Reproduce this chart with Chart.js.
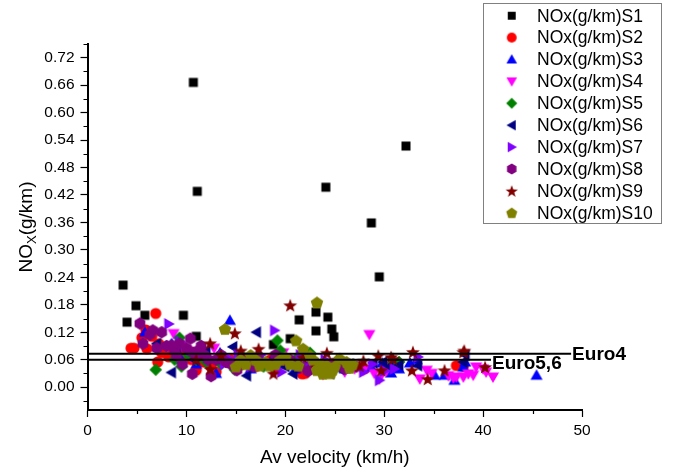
<!DOCTYPE html>
<html>
<head>
<meta charset="utf-8">
<script src="https://cdn.jsdelivr.net/npm/chart.js@4/dist/chart.umd.min.js"></script>
<style>
  html, body { margin: 0; padding: 0; background: #fff; }
  #wrap { width: 674px; height: 474px; }
</style>
</head>
<body>
<div id="wrap"><canvas id="myChart" width="674" height="474"></canvas></div>
<script>
// axis ticks
const xTicks = [0, 10, 20, 30, 40, 50];
const xMinor = [5, 15, 25, 35, 45];
const yTicks = [0, 0.06, 0.12, 0.18, 0.24, 0.30, 0.36, 0.42, 0.48, 0.54, 0.60, 0.66, 0.72];
const yMinor = [-0.03, 0.03, 0.09, 0.15, 0.21, 0.27, 0.33, 0.39, 0.45, 0.51, 0.57, 0.63, 0.69, 0.75];

// limit lines
const euroNames = ['Euro4', 'Euro5,6'];
const euroLevels = [0.073, 0.060];
const euroEnds = [48.9, 40.8];

const seriesNames = ['NOx(g/km)S1', 'NOx(g/km)S2', 'NOx(g/km)S3', 'NOx(g/km)S4', 'NOx(g/km)S5',
  'NOx(g/km)S6', 'NOx(g/km)S7', 'NOx(g/km)S8', 'NOx(g/km)S9', 'NOx(g/km)S10'];

// [velocity km/h, NOx g/km]
const s1 = [[10.7,0.666],[11.1,0.428],[24.1,0.437],[32.2,0.527],[28.7,0.359],[29.5,0.241],
  [3.6,0.223],[4.0,0.142],[4.9,0.178],[5.8,0.157],[9.7,0.157],[11.0,0.111],[21.4,0.147],
  [20.5,0.106],[23.1,0.164],[23.1,0.123],[24.3,0.153],[24.7,0.127],[24.9,0.110],[18.8,0.093]];
const s2 = [[4.4,0.085],[4.7,0.085],[5.5,0.108],[5.9,0.125],[6.0,0.084],[6.5,0.111],[6.9,0.161],
  [7.2,0.095],[7.1,0.055],[7.5,0.075],[8.2,0.066],[8.5,0.070],[9.0,0.080],[9.8,0.070],[10.2,0.080],
  [10.5,0.060],[11.0,0.037],[11.5,0.070],[11.7,0.055],[12.0,0.065],[12.5,0.045],[13.0,0.033],
  [14.5,0.060],[15.5,0.050],[16.0,0.055],[17.0,0.045],[18.5,0.060],[19.0,0.040],[20.0,0.050],
  [21.7,0.029],[22.0,0.030],[28.0,0.040],[37.3,0.047],[38.0,0.045]];
const s3 = [[5.8,0.120],[8.5,0.095],[9.5,0.060],[10.5,0.075],[11.0,0.050],[11.8,0.070],[13.0,0.030],
  [13.4,0.075],[14.0,0.060],[14.4,0.146],[15.5,0.055],[16.5,0.040],[17.5,0.065],[18.5,0.055],
  [19.5,0.050],[21.0,0.040],[22.5,0.060],[23.5,0.045],[24.5,0.050],[26.0,0.040],[28.7,0.044],
  [29.8,0.053],[30.7,0.031],[31.5,0.040],[32.6,0.053],[33.3,0.060],[35.1,0.026],[36.1,0.026],
  [37.1,0.015],[38.0,0.044],[38.2,0.055],[45.4,0.026]];
const s4 = [[8.7,0.117],[9.5,0.090],[10.5,0.065],[12.8,0.085],[13.8,0.060],[17.0,0.055],[19.8,0.075],
  [22.3,0.045],[23.8,0.028],[26.0,0.033],[27.0,0.040],[27.9,0.037],[28.5,0.115],[29.0,0.030],
  [29.5,0.018],[30.2,0.035],[31.0,0.045],[33.6,0.018],[34.3,0.037],[34.8,0.030],[36.5,0.025],
  [37.0,0.020],[37.3,0.022],[38.0,0.022],[38.5,0.029],[39.0,0.026],[39.3,0.044],[40.0,0.040],
  [40.3,0.033],[41.0,0.022]];
const s5 = [[6.9,0.038],[8.8,0.060],[9.3,0.108],[9.5,0.045],[10.2,0.070],[11.0,0.060],[12.0,0.055],
  [13.5,0.050],[14.9,0.038],[15.8,0.065],[16.5,0.050],[17.8,0.045],[19.2,0.102],[19.5,0.080],
  [20.0,0.050],[21.0,0.060],[22.5,0.075],[24.0,0.050],[25.5,0.045],[30.9,0.051],[31.5,0.055]];
const s6 = [[7.0,0.095],[8.5,0.032],[9.0,0.085],[10.8,0.060],[11.5,0.070],[12.0,0.080],[13.2,0.060],
  [14.7,0.088],[15.5,0.060],[16.1,0.025],[17.1,0.120],[18.0,0.050],[19.0,0.065],[20.0,0.045],
  [20.8,0.029],[22.0,0.040],[24.5,0.030],[25.5,0.040],[26.5,0.050],[28.9,0.053],[29.9,0.055],
  [30.5,0.045],[31.5,0.048],[33.4,0.047],[38.0,0.055],[38.2,0.070]];
const s7 = [[8.2,0.138],[9.3,0.100],[10.5,0.080],[11.2,0.065],[12.5,0.060],[13.8,0.050],[14.5,0.060],
  [15.2,0.070],[16.5,0.045],[17.5,0.070],[18.9,0.124],[19.0,0.045],[19.6,0.033],[20.5,0.055],
  [21.5,0.070],[22.2,0.050],[23.5,0.040],[24.0,0.060],[25.2,0.044],[26.3,0.040],[27.9,0.033],
  [28.8,0.050],[29.5,0.015],[30.0,0.035],[31.0,0.040],[33.4,0.066]];
const s8 = [[5.3,0.139],[5.6,0.095],[6.3,0.115],[6.6,0.124],[7.0,0.085],[7.5,0.120],[8.0,0.090],
  [8.5,0.091],[8.8,0.080],[9.0,0.069],[9.3,0.095],[9.6,0.050],[10.0,0.085],[10.4,0.106],
  [10.6,0.029],[10.7,0.075],[11.2,0.080],[11.5,0.090],[11.8,0.070],[12.2,0.060],[12.5,0.024],
  [13.0,0.060],[13.5,0.070],[14.0,0.055],[14.5,0.050],[15.1,0.037],[16.0,0.060],[16.8,0.045],
  [17.2,0.065],[18.5,0.050],[19.0,0.070],[19.8,0.060],[20.5,0.060],[21.5,0.045],[22.3,0.035],
  [23.0,0.050],[24.5,0.050],[26.0,0.040],[27.2,0.045]];
const s9 = [[11.0,0.060],[12.4,0.096],[12.4,0.040],[13.5,0.070],[14.9,0.118],[15.5,0.080],[16.0,0.050],
  [17.3,0.084],[18.8,0.030],[19.5,0.060],[20.5,0.179],[21.8,0.065],[23.0,0.055],[24.2,0.075],
  [25.2,0.060],[26.5,0.050],[27.5,0.047],[27.9,0.058],[29.4,0.069],[29.7,0.037],[30.7,0.066],
  [30.9,0.062],[32.8,0.037],[32.9,0.077],[34.4,0.018],[36.1,0.037],[38.0,0.077],[38.1,0.080],
  [40.2,0.044]];
const s10 = [[13.9,0.127],[15.0,0.045],[15.5,0.060],[16.0,0.050],[16.5,0.070],[17.0,0.060],[17.4,0.047],
  [18.0,0.055],[18.4,0.047],[19.0,0.050],[19.5,0.060],[20.0,0.065],[20.5,0.050],[21.1,0.102],
  [21.8,0.084],[22.5,0.069],[21.3,0.047],[22.8,0.060],[23.2,0.185],[23.2,0.037],[23.3,0.040],
  [23.6,0.050],[23.8,0.029],[24.0,0.033],[24.2,0.047],[24.6,0.030],[24.8,0.038],[25.0,0.045],
  [25.5,0.062],[26.2,0.055],[26.5,0.042],[26.8,0.050]];

const allSeries = [s1, s2, s3, s4, s5, s6, s7, s8, s9, s10];
const colors = ['#000000', '#ff0000', '#0000ff', '#ff00ff', '#008000',
  '#000080', '#8000ff', '#800080', '#800000', '#808000'];
const shapes = ['square', 'circle', 'up', 'down', 'diamond', 'left', 'right', 'hexagon', 'star', 'pentagon'];

const FONT = '"Liberation Sans", Arial, sans-serif';

function polygon(ctx, cx, cy, r, n, start) {
  ctx.beginPath();
  for (let i = 0; i < n; i++) {
    const a = start + i * 2 * Math.PI / n;
    const px = cx + r * Math.cos(a), py = cy + r * Math.sin(a);
    if (i === 0) ctx.moveTo(px, py); else ctx.lineTo(px, py);
  }
  ctx.closePath();
  ctx.fill();
}

function makeMarker(shape, color, k) {
  const c = document.createElement('canvas');
  c.width = 18; c.height = 18;
  const ctx = c.getContext('2d');
  ctx.fillStyle = color;
  const m = 9;
  if (shape === 'square') {
    ctx.fillRect(m - 4.5 * k, m - 4.5 * k, 9 * k, 9 * k);
  } else if (shape === 'circle') {
    ctx.beginPath(); ctx.arc(m, m, 5.6 * k, 0, Math.PI * 2); ctx.fill();
  } else if (shape === 'up') {
    polygon(ctx, m, m + 0.9, 7 * k, 3, -Math.PI / 2);
  } else if (shape === 'down') {
    polygon(ctx, m, m - 0.9, 7 * k, 3, Math.PI / 2);
  } else if (shape === 'left') {
    polygon(ctx, m + 0.9, m, 7 * k, 3, Math.PI);
  } else if (shape === 'right') {
    polygon(ctx, m - 0.9, m, 7 * k, 3, 0);
  } else if (shape === 'diamond') {
    polygon(ctx, m, m, 6.3 * k, 4, -Math.PI / 2);
  } else if (shape === 'hexagon') {
    polygon(ctx, m, m, 6.2 * k, 6, -Math.PI / 2);
  } else if (shape === 'pentagon') {
    polygon(ctx, m, m + 0.5, 6.6 * k, 5, -Math.PI / 2);
  } else if (shape === 'star') {
    ctx.beginPath();
    for (let i = 0; i < 10; i++) {
      const r = (i % 2 ? 3 : 7.3) * k;
      const a = -Math.PI / 2 + i * Math.PI / 5;
      const px = m + r * Math.cos(a), py = m + 0.7 + r * Math.sin(a);
      if (i === 0) ctx.moveTo(px, py); else ctx.lineTo(px, py);
    }
    ctx.closePath(); ctx.fill();
  }
  return c;
}

const markers = shapes.map(function(s, i) { return makeMarker(s, colors[i], 1); });
const legendMarkers = shapes.map(function(s, i) { return makeMarker(s, colors[i], 0.88); });

const datasets = [];
euroLevels.forEach(function(level, i) {
  datasets.push({
    type: 'scatter',
    label: euroNames[i],
    data: [{x: 0, y: level}, {x: euroEnds[i], y: level}],
    showLine: true,
    borderColor: '#000',
    borderWidth: 2,
    pointRadius: 0,
    order: 0
  });
});
allSeries.forEach(function(series, i) {
  datasets.push({
    type: 'scatter',
    label: seriesNames[i],
    data: series.map(function(p) { return {x: p[0], y: p[1]}; }),
    pointStyle: markers[i],
    backgroundColor: colors[i],
    borderColor: colors[i],
    order: 10 - i
  });
});

const extras = {
  id: 'extras',
  beforeDraw: function(chart) {
    const ctx = chart.ctx;
    ctx.save();
    ctx.fillStyle = '#fff';
    ctx.fillRect(0, 0, chart.width, chart.height);
    ctx.restore();
  },
  afterDraw: function(chart) {
    const ctx = chart.ctx;
    const xs = chart.scales.x, ys = chart.scales.y;
    const area = chart.chartArea;
    ctx.save();
    // minor ticks
    ctx.strokeStyle = '#000';
    ctx.lineWidth = 1.2;
    ctx.beginPath();
    yMinor.forEach(function(v) {
      const py = Math.round(ys.getPixelForValue(v)) + 0.5;
      ctx.moveTo(area.left - 4, py); ctx.lineTo(area.left, py);
    });
    xMinor.forEach(function(v) {
      const px = Math.round(xs.getPixelForValue(v)) + 0.5;
      ctx.moveTo(px, area.bottom); ctx.lineTo(px, area.bottom + 4);
    });
    ctx.stroke();

    // euro labels
    ctx.fillStyle = '#000';
    ctx.font = 'bold 19px ' + FONT;
    ctx.textAlign = 'left';
    ctx.textBaseline = 'middle';
    euroNames.forEach(function(name, i) {
      const px = xs.getPixelForValue(euroEnds[i]);
      const py = ys.getPixelForValue(euroLevels[i]) + (i === 0 ? 1 : 4);
      ctx.fillText(name, px + 1, py);
    });

    // x title
    ctx.font = '19px ' + FONT;
    ctx.textAlign = 'center';
    ctx.fillText('Av velocity (km/h)', (area.left + area.right) / 2, 458);

    // y title with subscript
    ctx.translate(24.5, 227);
    ctx.rotate(-Math.PI / 2);
    ctx.textAlign = 'left';
    ctx.textBaseline = 'alphabetic';
    ctx.font = '19px ' + FONT;
    const w1 = ctx.measureText('NO').width;
    const w3 = ctx.measureText('(g/km)').width;
    ctx.font = '13px ' + FONT;
    const w2 = ctx.measureText('X').width;
    let tx = -(w1 + w2 + w3) / 2;
    ctx.font = '19px ' + FONT;
    ctx.fillText('NO', tx, 7);
    ctx.font = '13px ' + FONT;
    ctx.fillText('X', tx + w1, 11);
    ctx.font = '19px ' + FONT;
    ctx.fillText('(g/km)', tx + w1 + w2, 7);
    ctx.restore();

    // legend
    ctx.save();
    ctx.strokeStyle = '#808080';
    ctx.lineWidth = 1;
    ctx.strokeRect(483.5, 3.5, 178, 220);
    ctx.font = '17.5px ' + FONT;
    ctx.fillStyle = '#000';
    ctx.textAlign = 'left';
    ctx.textBaseline = 'middle';
    seriesNames.forEach(function(name, i) {
      const cy = 15.7 + i * 21.9;
      ctx.drawImage(legendMarkers[i], 511.7 - 9, cy - 9);
      ctx.fillText(name, 537, cy + 1);
    });
    ctx.restore();
  }
};

new Chart(document.getElementById('myChart'), {
  type: 'scatter',
  data: { datasets: datasets },
  options: {
    responsive: false,
    animation: false,
    devicePixelRatio: 1,
    layout: { padding: { top: 44, right: 92, left: 0, bottom: 0 } },
    plugins: { legend: { display: false }, tooltip: { enabled: false }, title: { display: false } },
    scales: {
      x: {
        type: 'linear',
        min: 0, max: 50,
        afterBuildTicks: function(scale) { scale.ticks = xTicks.map(function(v) { return {value: v}; }); },
        afterFit: function(scale) { scale.height = 64; },
        border: { display: true, color: '#000', width: 2 },
        grid: { drawOnChartArea: false, drawTicks: true, tickLength: 7, tickColor: '#000', tickWidth: 1.2 },
        ticks: { color: '#000', font: { family: FONT, size: 15.5 }, padding: 4, maxRotation: 0,
          callback: function(v) { return String(v); } }
      },
      y: {
        type: 'linear',
        min: -0.05, max: 0.75,
        afterBuildTicks: function(scale) { scale.ticks = yTicks.map(function(v) { return {value: v}; }); },
        afterFit: function(scale) { scale.width = 87.5; },
        border: { display: true, color: '#000', width: 2 },
        grid: { drawOnChartArea: false, drawTicks: true, tickLength: 7, tickColor: '#000', tickWidth: 1.2 },
        ticks: { color: '#000', font: { family: FONT, size: 15.5 }, padding: 6,
          callback: function(v) { return v.toFixed(2); } }
      }
    }
  },
  plugins: [extras]
});
</script>
</body>
</html>
